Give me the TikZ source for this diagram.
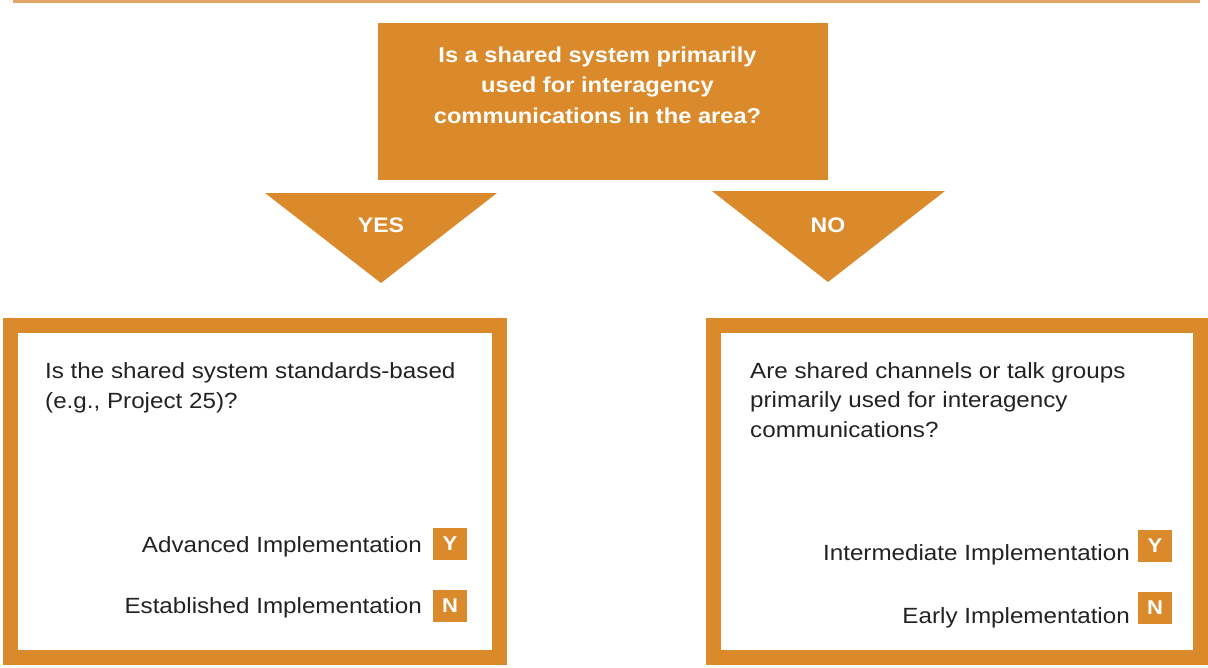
\documentclass[tikz,border=0pt]{standalone}
\usepackage{fontspec}
\setmainfont[FakeStretch=1.1]{Liberation Sans}
\definecolor{org}{HTML}{DA8A2A}
\definecolor{rule}{HTML}{E2A466}
\definecolor{txt}{HTML}{222222}
\begin{document}
\begin{tikzpicture}[x=1pt,y=-1pt,
  qbox/.style={fill=org, draw=none, minimum width=450pt, minimum height=157pt, inner sep=0pt},
  qtext/.style={text=white, font=\bfseries\fontsize{21.5}{30.5}\selectfont, align=center, inner sep=0pt},
  tri/.style={fill=org},
  tritext/.style={text=white, font=\bfseries\fontsize{21}{21}\selectfont, inner sep=0pt},
  frame/.style={draw=org, line width=15pt, inner sep=0pt},
  body/.style={text=txt, font=\fontsize{22}{30}\selectfont, inner sep=0pt, align=left, anchor=north west},
  outc/.style={text=txt, font=\fontsize{22}{22}\selectfont, inner sep=0pt, anchor=base east},
  yn/.style={fill=org, text=white, font=\bfseries\fontsize{20}{20}\selectfont, minimum width=34pt, minimum height=32pt, inner sep=0pt}
]
\useasboundingbox (0,0) rectangle (1208,667);
% top rule
\draw[rule, line width=3pt] (13,1.5) -- (1200,1.5);
% question box
\node[qbox] (q) at (603,101.5) {};
\node[qtext, anchor=north] (qt) at (597.5,46.5) {Is a shared system primarily\\used for interagency\\communications in the area?};
% triangles
\fill[tri] (265,193) coordinate (ya) -- (497,193) coordinate (yb) -- (381,283) coordinate (yc) -- cycle;
\node[tritext] (yes) at (381,225) {YES};
\fill[tri] (712,191) coordinate (na) -- (945,191) coordinate (nb) -- (828,282) coordinate (nc) -- cycle;
\node[tritext] (no) at (828,225) {NO};
% frames
\node[frame, minimum width=489pt, minimum height=332pt] (lbox) at (255,491.5) {};
\node[frame, minimum width=487pt, minimum height=332pt] (rbox) at (957,491.5) {};
% left content
\node[body] (lq) at (45,362) {Is the shared system standards-based\\(e.g., Project 25)?};
\node[outc] (adv) at (422,552) {Advanced Implementation};
\node[yn] (ly) at (450,543.5) {Y};
\node[outc] (est) at (422,613) {Established Implementation};
\node[yn] (ln) at (450,606) {N};
% right content
\node[body, font=\fontsize{22}{29.5}\selectfont] (rq) at (750,362) {Are shared channels or talk groups\\primarily used for interagency\\communications?};
\node[outc] (inter) at (1130,560) {Intermediate Implementation};
\node[yn] (ry) at (1155,546) {Y};
\node[outc] (early) at (1130,623) {Early Implementation};
\node[yn] (rn) at (1155,607.5) {N};
\end{tikzpicture}
\end{document}
